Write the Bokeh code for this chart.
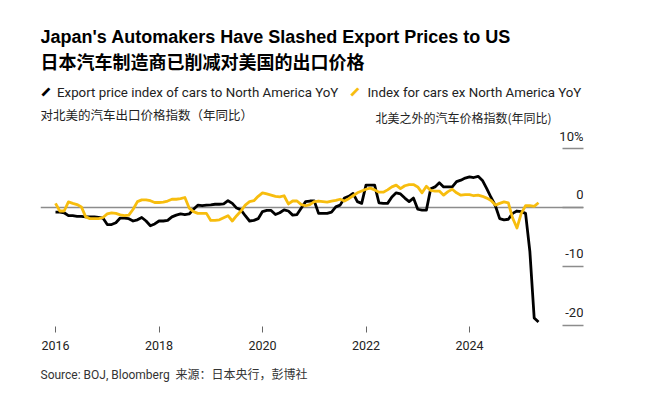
from bokeh.plotting import figure
from bokeh.models import Range1d, Span, Label, LabelSet, ColumnDataSource, FixedTicker, Title
from bokeh.core.properties import value
from bokeh.embed import file_html
from bokeh.resources import INLINE

# ---------------- data ----------------
start_year = 2016
# Export price index of cars to North America, YoY %, monthly from Jan 2016
na_export = [
    -0.8, -0.8, -0.9, -1.4, -1.4, -1.5, -1.5, -1.6, -1.6, -1.6, -1.7, -1.8,   # 2016
    -2.9, -2.9, -2.6, -1.8, -1.8, -1.9, -2.3, -2.1, -1.7, -2.3, -3.1, -2.8,   # 2017
    -2.3, -2.3, -2.2, -1.6, -1.3, -1.1, -1.2, -1.1, -0.3, 0.4, 0.3, 0.4,      # 2018
    0.45, 0.55, 0.55, 0.6, 1.15, 0.7, -0.1, -0.4, -1.4, -2.3, -2.2, -1.9,     # 2019
    -0.7, -0.5, -0.5, -1.2, -0.9, -0.4, -0.6, -1.3, -1.2, -0.1, 1.0, 1.1,     # 2020
    1.1, -1.0, -1.0, -1.0, -0.8, 0.1, 0.4, 1.6, 1.9, 2.4, 1.0, 0.7,           # 2021
    3.8, 3.8, 3.8, 0.8, 0.7, 0.7, 1.8, 2.5, 2.3, 1.6, 1.0, 1.6,               # 2022
    -0.3, -0.45, -0.45, 3.2, 3.5, 4.2, 3.5, 3.5, 3.5, 4.4, 4.65, 5.0,         # 2023
    5.2, 5.1, 5.3, 4.6, 3.2, 1.7, 0.3, -1.9, -2.1, -2.0, -1.0, -0.6,          # 2024
    -0.7, -1.0, -7.5, -18.8, -19.5,                                           # 2025
]
# Index for cars ex North America, YoY %
ex_na = [
    0.7, -0.6, -0.6, 0.95, 0.7, 0.5, 0.1, -1.6, -1.9, -1.9, -1.9, -1.7,       # 2016
    -1.1, -0.9, -1.0, -1.25, -1.4, -1.3, -0.3, 1.0, 1.3, 1.3, 1.15, 0.85,     # 2017
    0.85, 0.9, 1.1, 1.4, 1.4, 1.5, 1.7, -0.1, -0.7, -1.0, -1.0, -1.0,         # 2018
    -2.2, -2.2, -2.1, -1.75, -1.4, -2.3, -1.4, -0.6, 0.4, 1.0, 1.15, 1.9,     # 2019
    2.5, 2.3, 2.1, 1.9, 1.8, 2.0, 0.6, 1.1, 1.1, 0.5, 0.3, 0.5,               # 2020
    1.0, 1.1, 1.0, 0.9, 1.1, 1.2, 1.4, 1.1, 1.5, 2.0, 2.5, 2.8,               # 2021
    3.1, 3.3, 3.0, 2.6, 2.6, 3.0, 3.5, 3.8, 3.2, 3.7, 3.9, 3.9,               # 2022
    3.5, 2.5, 3.6, 2.9, 2.8, 2.8, 2.1, 2.7, 3.1, 2.5, 2.1, 2.2,               # 2023
    2.2, 2.0, 2.1, 1.9, 1.6, 1.2, 0.4, 0.7, 0.95, 0.8, -1.8, -3.5,            # 2024
    -1.0, 0.3, 0.3, 0.2, 0.8,                                                 # 2025
]
months = [start_year + i / 12 for i in range(len(na_export))]

x_ticks = [2016, 2018, 2020, 2022, 2024]
x_tick_labels = ["2016", "2018", "2020", "2022", "2024"]
y_ticks = [10, 0, -10, -20]
y_tick_labels = ["10%", "0", "-10", "-20"]

title_en = "Japan's Automakers Have Slashed Export Prices to US"
title_cn = "日本汽车制造商已削减对美国的出口价格"
legend_black = "Export price index of cars to North America YoY"
legend_yellow = "Index for cars ex North America YoY"
sub_left = "对北美的汽车出口价格指数（年同比）"
sub_right = "北美之外的汽车价格指数(年同比)"
source_text = "Source: BOJ, Bloomberg\u00a0\u00a0来源：日本央行，彭博社"

# ---------------- style / layout ----------------
BLACK = "#000000"
YELLOW = "#F7BD0E"
GRAY = "#8c8c8c"
LATIN = "Roboto"
CJK = "Noto Sans CJK SC"

W, H = 654, 399
FL, FR, FT, FB = 40, 583, 0, 326          # frame edges in pixels
x_start, x_end = 2015.7101, 2026.2029
y_start, y_end = -20.25, 35.22

def X(px):
    return x_start + (px - FL) / (FR - FL) * (x_end - x_start)

def Y(py):
    return y_end - (py - FT) / (FB - FT) * (y_end - y_start)

p = figure(width=W, height=H, output_backend="svg", toolbar_location=None,
           x_range=Range1d(x_start, x_end), y_range=Range1d(y_start, y_end),
           min_border_left=FL, min_border_right=W - FR, min_border_top=FT, min_border_bottom=H - FB,
           y_axis_location="right")
p.outline_line_color = None
p.background_fill_color = "white"
p.border_fill_color = "white"
p.xgrid.visible = False
p.ygrid.visible = False

# x axis
xa = p.xaxis[0]
xa.ticker = FixedTicker(ticks=x_ticks)
xa.major_label_overrides = {t: l for t, l in zip(x_ticks, x_tick_labels)}
xa.axis_line_color = None
xa.major_tick_in = 0
xa.major_tick_out = 6
xa.major_tick_line_color = "#666666"
xa.minor_tick_line_color = None
xa.major_label_standoff = 8
xa.major_label_text_font = LATIN
xa.major_label_text_font_size = "12.5px"
xa.major_label_text_color = "#222222"

# right axis: short tick segments inside the frame
ya = p.yaxis[0]
ya.ticker = FixedTicker(ticks=y_ticks)
ya.axis_line_color = None
ya.major_tick_in = 21
ya.major_tick_out = 0
ya.major_tick_line_color = GRAY
ya.major_tick_line_width = 1.5
ya.minor_tick_line_color = None
ya.major_label_text_color = None

p.add_layout(Span(location=0, dimension="width", line_color=GRAY, line_width=1.5, level="underlay"))

p.line(months, na_export, line_color=BLACK, line_width=2.8, line_join="round")
p.line(months, ex_na, line_color=YELLOW, line_width=2.8, line_join="round")

# y tick labels sitting above the tick segments
lab_src = ColumnDataSource(dict(x=[x_end] * len(y_ticks), y=y_ticks, text=y_tick_labels))
p.add_layout(LabelSet(x="x", y="y", text="text", source=lab_src, y_offset=8,
                      text_align="right", text_baseline="alphabetic",
                      text_font=value(LATIN), text_font_size="13px", text_color="#222222"))

def lab(px, py, text, font, size, color="#222222", bold=False, baseline="middle",
        align="left", angle=0.0):
    p.add_layout(Label(x=X(px), y=Y(py), text=text, angle=angle,
                       text_font=font, text_font_size=size, text_color=color,
                       text_font_style="bold" if bold else "normal",
                       text_baseline=baseline, text_align=align))

lab(40, 36, title_en, "Liberation Sans", "18px", "#000000", bold=True, baseline="alphabetic")
lab(40, 60, title_cn, CJK, "18px", "#000000", bold=True)
# legend swatches: short thick diagonal strokes
lab(45.5, 91.5, "\u2501", "DejaVu Sans", "16px", BLACK, align="center", angle=0.8)
lab(56.5, 91.5, legend_black, LATIN, "13.3px")
lab(354.5, 91.5, "\u2501", "DejaVu Sans", "16px", YELLOW, align="center", angle=0.8)
lab(367, 91.5, legend_yellow, LATIN, "13.3px")
lab(40, 113.5, sub_left, CJK, "12.5px")
lab(375, 117, sub_right, CJK, "12px")

p.add_layout(Title(text=source_text, align="left", text_font="Roboto, Noto Sans CJK SC",
                   text_font_size="12px", text_font_style="normal", text_color="#333333",
                   standoff=26), "below")

open("out.html", "w").write(file_html(p, INLINE))
